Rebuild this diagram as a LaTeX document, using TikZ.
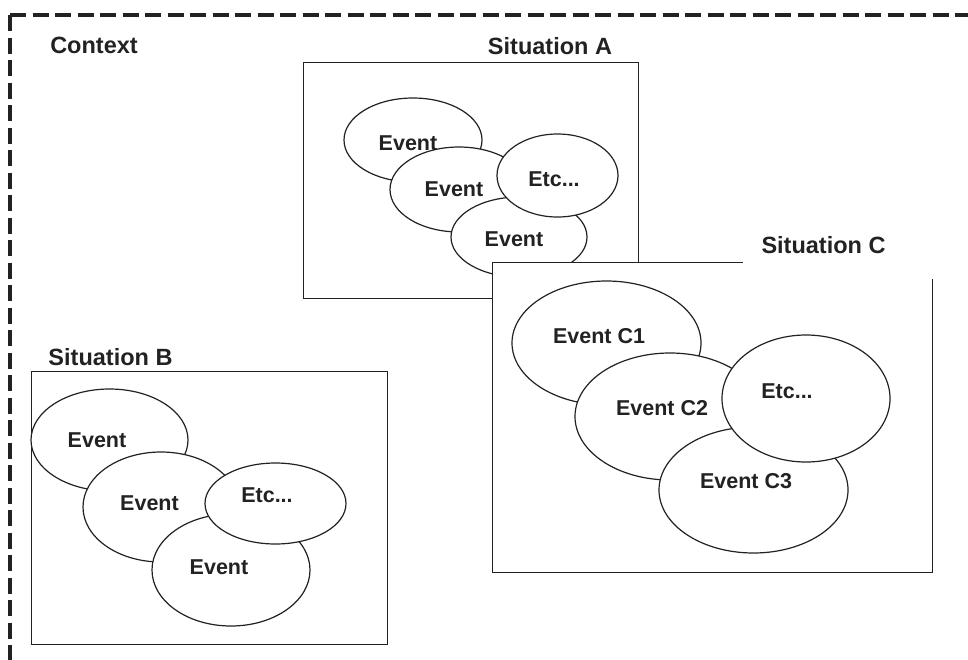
\documentclass[tikz,border=0pt]{standalone}
\usepackage{fontspec}
\setmainfont{Liberation Sans}
\usetikzlibrary{positioning, shapes.geometric}
\definecolor{inkgray}{RGB}{34,34,34}

\begin{document}
\begin{tikzpicture}[x=1pt, y=-1pt,
    frame/.style={draw=inkgray, line width=4pt, dash pattern=on 16pt off 6.5pt},
    sitbox/.style={draw=inkgray, fill=white, line width=1.2pt, inner sep=0pt, anchor=north west},
    sittitle/.style={text=inkgray, font=\fontsize{23.5}{26}\selectfont\bfseries},
    evt/.style={draw=inkgray, fill=white, ellipse, line width=1.2pt, inner sep=0pt},
    evlbl/.style={text=inkgray, font=\fontsize{21.5}{24}\selectfont\bfseries}]
      \useasboundingbox (0,0) rectangle (968,659);
      \clip (0,0) rectangle (968,659);

      % context frame
      \coordinate (ctxnw) at (10,15);
      \coordinate (ctxne) at (990,15);
      \coordinate (ctxsw) at (10,680);
      \draw[frame] (ctxnw) -- (ctxne);
      \draw[frame] (ctxnw) -- (ctxsw);
      \node[sittitle] (ctx) at (94,45) {Context};

      % situation A
      \node[sitbox, minimum width=335pt, minimum height=236pt] (sitA) at (303,62) {};
      \node[sittitle] (ttlA) at (550,46) {Situation A};
      \node[evt, minimum width=138pt, minimum height=84pt, label={[evlbl, xshift=-5pt, yshift=-3pt]center:Event}] (a1) at (413,140) {};
      \node[evt, minimum width=138pt, minimum height=85pt, label={[evlbl, xshift=-5pt]center:Event}] (a2) at (459,189.5) {};
      \node[evt, minimum width=136pt, minimum height=80pt, label={[evlbl, xshift=-5pt, yshift=-2pt]center:Event}] (a3) at (519,237) {};
      \node[evt, minimum width=121pt, minimum height=83pt, label={[evlbl, xshift=-3.5pt, yshift=-3.5pt]center:Etc...}] (aetc) at (557.5,175.5) {};

      % situation B
      \node[sitbox, minimum width=356pt, minimum height=273pt] (sitB) at (31,371) {};
      \node[sittitle] (ttlB) at (110.5,357) {Situation B};
      \node[evt, minimum width=157pt, minimum height=102pt, label={[evlbl, xshift=-12.5pt]center:Event}] (b1) at (109.5,440) {};
      \node[evt, minimum width=156pt, minimum height=110pt, label={[evlbl, xshift=-11.5pt, yshift=4pt]center:Event}] (b2) at (161,507) {};
      \node[evt, minimum width=158pt, minimum height=112pt, label={[evlbl, xshift=-12pt, yshift=3pt]center:Event}] (b3) at (231,570) {};
      \node[evt, minimum width=141pt, minimum height=81pt, label={[evlbl, xshift=-8.5pt, yshift=8.5pt]center:Etc...}] (betc) at (275.5,503.5) {};

      % situation C
      \node[sitbox, minimum width=440pt, minimum height=310pt] (sitC) at (492,262) {};
      \fill[white] (743,254) rectangle (940,279);
      \node[sittitle] (ttlC) at (823.5,245) {Situation C};
      \node[evt, minimum width=189pt, minimum height=124pt, label={[evlbl, xshift=-7.5pt, yshift=7pt]center:Event C1}] (c1) at (606.5,343) {};
      \node[evt, minimum width=190pt, minimum height=127pt, label={[evlbl, xshift=-8pt, yshift=8.5pt]center:Event C2}] (c2) at (670,416.5) {};
      \node[evt, minimum width=189pt, minimum height=126pt, label={[evlbl, xshift=-7.5pt, yshift=9pt]center:Event C3}] (c3) at (753.5,490) {};
      \node[evt, minimum width=168pt, minimum height=127pt, label={[evlbl, xshift=-19pt, yshift=7.5pt]center:Etc...}] (cetc) at (806,398.5) {};
    \end{tikzpicture}
\end{document}
